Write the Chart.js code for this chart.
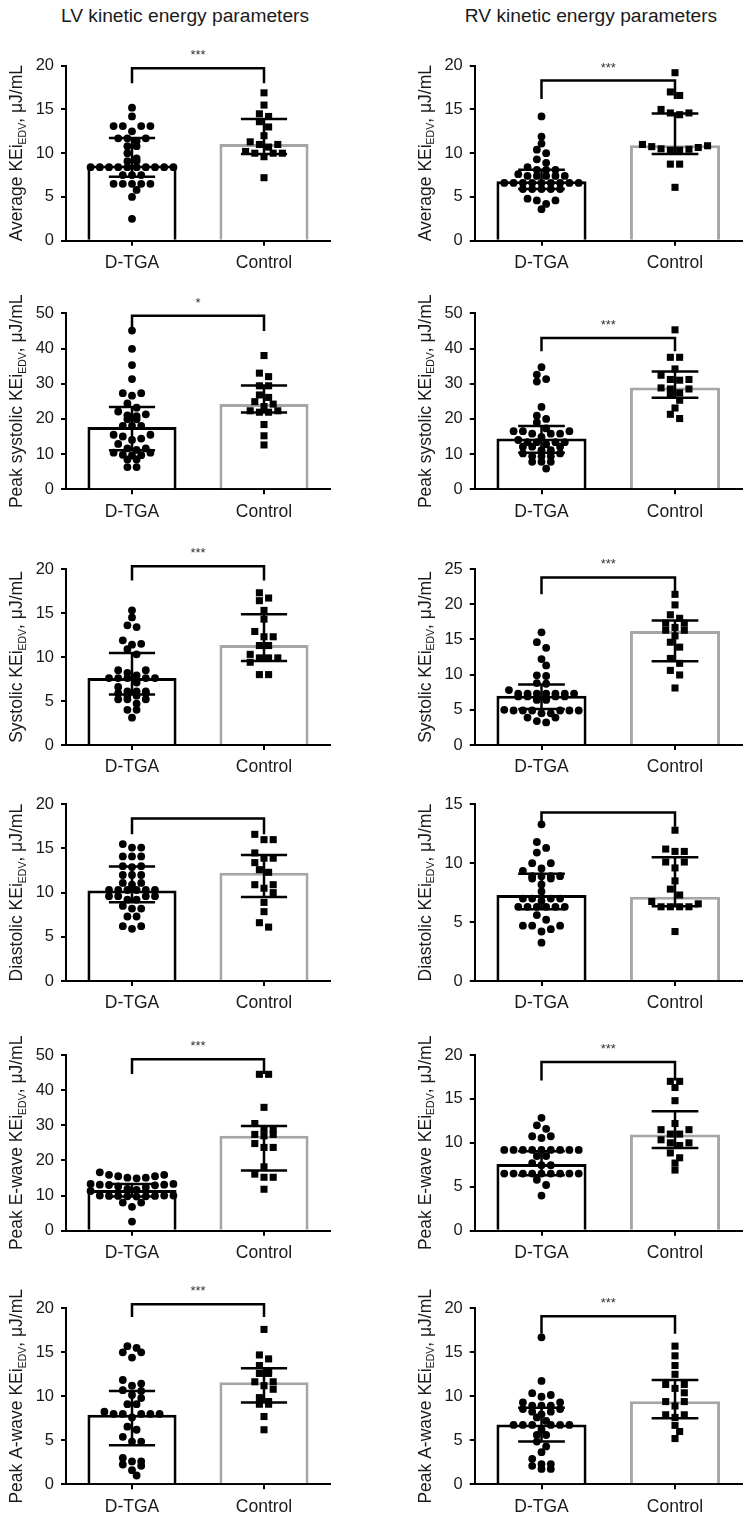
<!DOCTYPE html>
<html>
<head>
<meta charset="utf-8">
<script src="https://cdn.jsdelivr.net/npm/chart.js@4.4.0/dist/chart.umd.min.js"></script>
<style>
  body { margin: 0; background: #fff; }
  #page { position: relative; width: 748px; height: 1521px; background: #fff; overflow: hidden;
          font-family: "Liberation Sans", Arial, Helvetica, sans-serif; color: #1a1a1a; }
  .col-title { position: absolute; top: 6.4px; width: 374px; text-align: center; font-size: 19.2px; line-height: 1; }
  .panel { position: absolute; }
</style>
</head>
<body>
<div id="page">
  <div class="col-title" style="left:-2px">LV kinetic energy parameters</div>
  <div class="col-title" style="left:404px">RV kinetic energy parameters</div>
</div>
<script>
const groups = ["D-TGA", "Control"];
const yLabels = ["Average", "Average", "Peak systolic", "Peak systolic", "Systolic", "Systolic",
  "Diastolic", "Diastolic", "Peak E-wave", "Peak E-wave", "Peak A-wave", "Peak A-wave"];
const yMax = [20, 20, 50, 50, 20, 25, 20, 15, 50, 20, 20, 20];
const yStep = [5, 5, 10, 10, 5, 5, 5, 5, 10, 5, 5, 5];

// individual patients
const lvAverageTga = [15.2, 14.2, 13.1, 13.1, 13.1, 13.1, 12.5, 11.7, 11.7, 11.7, 11.4, 10.8, 10.8, 10.0, 9.4, 9.1, 9.1, 8.4, 8.4, 8.4, 8.4, 8.4, 8.4, 8.4, 8.4, 8.4, 8.4, 7.5, 7.5, 7.5, 6.5, 6.5, 6.5, 6.5, 6.5, 5.8, 5.0, 2.5];
const lvAverageCtl = [16.9, 15.5, 14.5, 14.2, 13.6, 13.0, 12.0, 11.3, 11.0, 11.0, 10.7, 10.2, 10.0, 10.0, 10.0, 9.6, 7.2];
const rvAverageTga = [14.2, 11.9, 11.1, 10.4, 10.0, 9.3, 8.9, 8.4, 8.1, 8.1, 8.1, 7.6, 7.4, 7.4, 7.4, 7.4, 7.4, 6.6, 6.6, 6.6, 6.6, 6.6, 6.6, 6.6, 6.6, 6.6, 5.9, 5.9, 5.9, 5.9, 5.9, 4.8, 4.6, 4.6, 4.2, 3.6];
const rvAverageCtl = [19.2, 17.0, 16.6, 15.0, 14.6, 14.6, 14.4, 11.0, 10.85, 10.65, 10.5, 10.35, 10.35, 10.45, 10.75, 8.75, 8.75, 6.1];
const lvPeakSysTga = [45.1, 39.9, 35.3, 31.3, 27.3, 27.3, 26.6, 24.4, 23.2, 22.1, 21.3, 21.0, 20.8, 19.9, 19.9, 18.0, 18.0, 18.0, 15.5, 15.5, 15.0, 14.4, 14.0, 12.9, 11.6, 11.6, 11.2, 10.4, 10.4, 9.8, 9.7, 9.6, 8.5, 8.5, 6.3, 6.3];
const lvPeakSysCtl = [38.0, 33.0, 32.0, 29.4, 29.4, 26.8, 26.1, 24.9, 24.2, 23.5, 22.3, 22.3, 21.9, 21.9, 18.4, 15.2, 12.6];
const rvPeakSysTga = [34.7, 32.6, 31.3, 30.6, 23.4, 20.9, 20.0, 19.0, 17.3, 16.5, 16.5, 16.5, 15.8, 15.8, 15.8, 14.9, 14.0, 13.4, 13.4, 13.4, 13.4, 12.8, 12.1, 12.1, 12.1, 11.1, 11.1, 10.2, 10.2, 9.4, 9.4, 9.4, 7.8, 7.8, 7.8, 5.9];
const rvPeakSysCtl = [45.3, 37.5, 37.5, 34.2, 32.4, 31.2, 31.2, 31.0, 28.8, 28.5, 28.5, 27.4, 26.7, 25.3, 23.1, 21.3, 20.1];
const lvSystolicTga = [15.3, 14.5, 13.6, 13.4, 11.9, 11.5, 11.4, 10.9, 10.3, 8.5, 8.5, 8.2, 7.9, 7.6, 7.6, 7.6, 7.6, 7.6, 7.1, 6.6, 6.1, 6.1, 6.1, 5.9, 5.9, 5.6, 5.6, 5.2, 5.2, 5.2, 4.7, 4.0, 4.0, 3.1];
const lvSystolicCtl = [17.3, 16.7, 16.4, 15.3, 14.3, 12.9, 12.3, 12.3, 11.3, 11.3, 10.3, 9.9, 9.9, 9.9, 9.4, 8.0, 8.0];
const rvSystolicTga = [16.0, 14.6, 13.8, 12.2, 11.3, 9.9, 9.8, 8.8, 8.7, 7.8, 7.3, 7.3, 7.3, 7.3, 7.3, 7.3, 7.3, 6.9, 6.9, 6.9, 6.9, 6.4, 6.4, 5.0, 4.9, 4.9, 4.9, 4.9, 4.9, 4.9, 4.5, 4.5, 3.9, 3.9, 3.4, 3.2];
const rvSystolicCtl = [21.4, 19.9, 18.5, 18.0, 17.3, 17.3, 16.7, 16.3, 16.3, 15.5, 14.6, 13.9, 12.3, 11.6, 10.6, 9.95, 8.1];
const lvDiastolicTga = [15.5, 15.1, 15.1, 14.1, 14.1, 14.1, 13.0, 13.0, 12.9, 12.0, 12.0, 12.0, 11.1, 11.1, 10.9, 10.3, 10.3, 10.3, 10.3, 10.3, 10.3, 9.6, 9.6, 9.6, 9.6, 9.2, 9.2, 8.5, 8.2, 8.2, 7.3, 7.3, 6.2, 6.2, 5.9];
const lvDiastolicCtl = [16.6, 16.0, 16.0, 14.5, 13.9, 13.9, 13.4, 12.6, 12.3, 10.9, 10.9, 10.5, 10.0, 8.9, 7.85, 6.6, 6.1];
const rvDiastolicTga = [13.3, 11.8, 11.3, 10.9, 10.0, 10.0, 9.55, 9.35, 8.9, 8.9, 8.9, 8.9, 8.7, 8.7, 8.2, 7.6, 7.0, 7.0, 7.0, 7.0, 6.8, 6.3, 6.3, 6.3, 6.3, 6.3, 6.3, 5.6, 5.2, 4.7, 4.7, 4.7, 4.4, 4.2, 3.25];
const rvDiastolicCtl = [12.8, 11.2, 11.0, 11.0, 10.1, 10.1, 9.6, 8.5, 7.8, 7.3, 6.75, 6.55, 6.3, 6.3, 6.3, 6.3, 4.2];
const lvPeakETga = [16.6, 15.9, 15.9, 15.5, 15.5, 15.1, 15.1, 14.9, 13.3, 13.3, 13.1, 13.1, 13.0, 12.9, 12.6, 12.3, 11.9, 11.6, 11.3, 10.0, 10.0, 10.0, 9.9, 9.9, 9.9, 9.8, 9.8, 9.7, 8.0, 8.0, 6.8, 2.6];
const lvPeakECtl = [44.5, 44.5, 35.1, 30.5, 28.9, 28.9, 27.4, 27.4, 27.0, 24.8, 23.7, 23.7, 18.2, 16.1, 15.2, 15.2, 11.8];
const rvPeakETga = [12.85, 12.0, 11.6, 10.75, 10.55, 10.75, 9.2, 9.2, 9.2, 9.2, 9.2, 9.2, 9.2, 9.2, 9.2, 8.5, 8.5, 7.7, 7.45, 7.45, 6.5, 6.5, 6.5, 6.5, 6.5, 6.5, 6.5, 6.5, 6.5, 5.8, 5.2, 4.0];
const rvPeakECtl = [17.0, 17.0, 16.3, 14.8, 12.2, 11.5, 11.5, 11.0, 11.0, 10.35, 10.0, 10.0, 9.7, 8.85, 8.3, 7.7, 6.9];
const lvPeakATga = [15.7, 15.5, 15.0, 15.0, 14.4, 11.85, 11.45, 11.2, 10.7, 10.6, 10.15, 9.8, 9.1, 9.1, 8.25, 8.0, 8.0, 8.0, 8.0, 8.0, 7.6, 6.55, 6.2, 5.4, 4.85, 4.85, 3.0, 2.6, 2.6, 2.25, 2.1, 1.6, 1.0];
const lvPeakACtl = [17.6, 14.7, 14.25, 13.5, 12.9, 12.6, 12.6, 11.65, 11.65, 11.2, 10.8, 9.85, 9.4, 9.1, 9.1, 7.7, 6.2];
const rvPeakATga = [16.7, 11.75, 10.35, 10.15, 9.95, 9.3, 9.3, 8.95, 8.95, 8.95, 8.55, 8.55, 8.25, 8.25, 7.95, 7.6, 7.2, 6.75, 6.75, 6.75, 6.75, 6.75, 6.75, 6.2, 5.6, 5.6, 4.85, 4.3, 3.65, 2.9, 2.3, 2.3, 2.1, 1.75, 1.75];
const rvPeakACtl = [15.7, 14.6, 13.5, 12.5, 11.35, 11.35, 10.9, 10.4, 9.4, 9.4, 8.9, 7.9, 7.9, 7.6, 6.7, 6.0, 5.2];

// bar = median, whiskers = interquartile range
const medianTga = [8.6, 6.8, 17.7, 14.4, 7.6, 7.0, 10.25, 7.3, 11.6, 7.6, 7.9, 6.8];
const q1Tga = [7.3, 5.9, 11.1, 10.4, 5.75, 5.1, 8.9, 6.1, 9.7, 6.3, 4.45, 4.85];
const q3Tga = [11.75, 8.1, 23.4, 18.0, 10.45, 8.6, 12.95, 9.1, 13.3, 9.05, 10.6, 8.7];
const medianCtl = [11.05, 10.9, 24.2, 28.9, 11.35, 16.2, 12.25, 7.15, 27.0, 10.95, 11.6, 9.45];
const q1Ctl = [9.9, 9.9, 21.8, 26.0, 9.55, 11.9, 9.5, 6.35, 17.1, 9.4, 9.3, 7.5];
const q3Ctl = [13.9, 14.55, 29.5, 33.5, 14.85, 17.7, 14.25, 10.5, 29.8, 13.6, 13.2, 11.85];

// significance brackets
const sigLabels = ["***", "***", "*", "***", "***", "***", "", "", "***", "***", "***", "***"];
const bracketTop = [19.7, 18.3, 49.3, 43.0, 20.3, 23.8, 18.4, 14.3, 48.8, 19.2, 20.45, 19.1];
const bracketLeg = [18.0, 16.2, 45.0, 39.2, 18.7, 21.4, 16.6, 13.1, 44.6, 17.1, 19.0, 17.1];

const tgaValues = [lvAverageTga, rvAverageTga, lvPeakSysTga, rvPeakSysTga, lvSystolicTga, rvSystolicTga,
  lvDiastolicTga, rvDiastolicTga, lvPeakETga, rvPeakETga, lvPeakATga, rvPeakATga];
const ctlValues = [lvAverageCtl, rvAverageCtl, lvPeakSysCtl, rvPeakSysCtl, lvSystolicCtl, rvSystolicCtl,
  lvDiastolicCtl, rvDiastolicCtl, lvPeakECtl, rvPeakECtl, lvPeakACtl, rvPeakACtl];

// page layout (pixels)
const rowTop = [65.7, 313.3, 569, 804.3, 1055, 1308.3];
const rowBottom = [240.7, 489.3, 745, 981, 1230.7, 1484.3];
const colLeft = [66, 474.75];
const colRight = [330, 741.75];

const FONT = '"Liberation Sans", Arial, Helvetica, sans-serif';
Chart.defaults.font.family = FONT;
Chart.defaults.color = "#1a1a1a";

// GraphPad-style scatter: values grouped in rows, lowest of a row in the middle
function dotOffsets(values, max) {
  const pxY = 176 / max, pxX = 132, step = 9.2, binPx = 6, minGap = 7;
  const order = values.map((v, i) => i).sort((a, b) => values[b] - values[a] || a - b);
  const bins = [];
  order.forEach(i => {
    const bin = bins[bins.length - 1];
    if (bin && (values[bin[0]] - values[i]) * pxY <= binPx + 1e-6) bin.push(i);
    else bins.push([i]);
  });
  const xs = new Array(values.length);
  const placed = [];
  bins.forEach(bin => {
    const n = bin.length;
    const sorted = bin.slice().sort((a, b) => values[a] - values[b] || a - b);
    const slots = [];
    for (let j = 0; j < n; j++) slots.push(j - (n - 1) / 2);
    slots.sort((a, b) => Math.abs(a) - Math.abs(b) || b - a);
    let shift = 0;
    if (n === 1) {
      const y = values[bin[0]] * pxY;
      const tries = [0, 0.5, -0.5, 1, -1, 1.5, -1.5, 2, -2];
      const ok = tries.find(t => placed.every(p => Math.hypot(t * step - p.x, y - p.y) >= minGap));
      shift = ok === undefined ? 0 : ok;
    }
    sorted.forEach((idx, j) => {
      const x = (slots[j] + shift) * step;
      placed.push({ x, y: values[idx] * pxY });
      xs[idx] = x / pxX;
    });
  });
  return xs;
}

function errorPath(c, lo, hi) {
  const w = 0.175;
  return [
    { x: c - w, y: hi }, { x: c + w, y: hi }, { x: c, y: null },
    { x: c, y: hi }, { x: c, y: lo }, { x: c, y: null },
    { x: c - w, y: lo }, { x: c + w, y: lo }
  ];
}

function makePanel(k) {
  const row = Math.floor(k / 2), col = k % 2;
  const cx = col * 374, cw = 374;
  const cy = Math.floor(rowTop[row] - 45);
  const ch = Math.ceil(rowBottom[row] + 45) - cy;
  const xAxisHeight = ch - (rowBottom[row] - cy);
  const yAxisWidth = colLeft[col] - cx;

  const wrap = document.createElement("div");
  wrap.className = "panel";
  wrap.style.left = cx + "px";
  wrap.style.top = cy + "px";
  const canvas = document.createElement("canvas");
  canvas.width = cw;
  canvas.height = ch;
  canvas.style.width = cw + "px";
  canvas.style.height = ch + "px";
  wrap.appendChild(canvas);
  document.getElementById("page").appendChild(wrap);

  const tga = tgaValues[k], ctl = ctlValues[k];
  const tgaX = dotOffsets(tga, yMax[k]);
  const ctlX = dotOffsets(ctl, yMax[k]);

  const labelPlugin = {
    id: "labels" + k,
    afterDraw(chart) {
      const ctx = chart.ctx, a = chart.chartArea;
      const fs = 17.5;
      const parts = [[yLabels[k] + " KEi", fs, 0], ["EDV", fs * 0.6, fs * 0.2], [", \u03bcJ/mL", fs, 0]];
      ctx.save();
      ctx.fillStyle = "#1a1a1a";
      ctx.textBaseline = "alphabetic";
      let total = 0;
      parts.forEach(p => { ctx.font = p[1] + "px " + FONT; total += ctx.measureText(p[0]).width; });
      ctx.translate(a.left - 44, (a.top + a.bottom) / 2);
      ctx.rotate(-Math.PI / 2);
      let x = -total / 2;
      parts.forEach(p => {
        ctx.font = p[1] + "px " + FONT;
        ctx.fillText(p[0], x, p[2]);
        x += ctx.measureText(p[0]).width;
      });
      ctx.restore();

      if (sigLabels[k]) {
        const xs = chart.scales.x, ys = chart.scales.y;
        ctx.save();
        ctx.font = "13px " + FONT;
        ctx.fillStyle = "#333";
        ctx.textAlign = "center";
        ctx.textBaseline = "alphabetic";
        ctx.fillText(sigLabels[k], (xs.getPixelForValue(0) + xs.getPixelForValue(1)) / 2,
          ys.getPixelForValue(bracketTop[k]) - 9);
        ctx.restore();
      }
    }
  };

  new Chart(canvas, {
    type: "bar",
    data: {
      datasets: [
        {
          type: "bar",
          data: [{ x: 0, y: medianTga[k] }, { x: 1, y: medianCtl[k] }],
          backgroundColor: "#fff",
          borderColor: ["#000", "#a6a6a6"],
          borderWidth: 3,
          barPercentage: 0.675,
          categoryPercentage: 1,
          order: 4
        },
        {
          type: "scatter",
          data: tga.map((v, i) => ({ x: tgaX[i], y: v })),
          pointStyle: "circle",
          pointRadius: 3.9,
          backgroundColor: "#000",
          pointBackgroundColor: "#000",
          borderWidth: 0,
          pointBorderWidth: 0,
          clip: false,
          order: 3
        },
        {
          type: "scatter",
          data: ctl.map((v, i) => ({ x: 1 + ctlX[i], y: v })),
          pointStyle: "rect",
          pointRadius: 5,
          backgroundColor: "#000",
          pointBackgroundColor: "#000",
          borderWidth: 0,
          pointBorderWidth: 0,
          clip: false,
          order: 3
        },
        {
          type: "line",
          data: errorPath(0, q1Tga[k], q3Tga[k]),
          borderColor: "#000",
          borderWidth: 2.5,
          pointRadius: 0,
          spanGaps: false,
          clip: false,
          order: 2
        },
        {
          type: "line",
          data: errorPath(1, q1Ctl[k], q3Ctl[k]),
          borderColor: "#000",
          borderWidth: 2.5,
          pointRadius: 0,
          spanGaps: false,
          clip: false,
          order: 2
        },
        {
          type: "line",
          data: [{ x: 0, y: bracketLeg[k] }, { x: 0, y: bracketTop[k] }, { x: 1, y: bracketTop[k] }, { x: 1, y: bracketLeg[k] }],
          borderColor: "#000",
          borderWidth: 2.5,
          borderJoinStyle: "miter",
          pointRadius: 0,
          clip: false,
          order: 1
        }
      ]
    },
    options: {
      responsive: false,
      devicePixelRatio: 1,
      animation: false,
      events: [],
      layout: { padding: { top: rowTop[row] - cy, right: cx + cw - colRight[col], bottom: 0, left: 0 } },
      plugins: { legend: { display: false }, tooltip: { enabled: false } },
      scales: {
        x: {
          type: "linear",
          min: -0.5,
          max: 1.5,
          offset: false,
          z: 1,
          afterBuildTicks: s => { s.ticks = [{ value: 0 }, { value: 1 }]; },
          afterFit: s => { s.height = xAxisHeight; },
          ticks: { callback: v => groups[v], font: { size: 17.5 }, color: "#1a1a1a", padding: 7, maxRotation: 0, autoSkip: false },
          grid: { offset: false, drawOnChartArea: false, drawTicks: true, tickLength: 5, color: "#000", lineWidth: 2 },
          border: { display: true, color: "#000", width: 2 }
        },
        y: {
          min: 0,
          max: yMax[k],
          afterFit: s => { s.width = yAxisWidth; },
          ticks: { stepSize: yStep[k], font: { size: 16.5 }, color: "#1a1a1a", padding: 7 },
          grid: { drawOnChartArea: false, drawTicks: true, tickLength: 5, color: "#000", lineWidth: 2 },
          border: { display: true, color: "#000", width: 2 }
        }
      }
    },
    plugins: [labelPlugin]
  });
}

for (let k = 0; k < 12; k++) makePanel(k);
</script>
</body>
</html>
